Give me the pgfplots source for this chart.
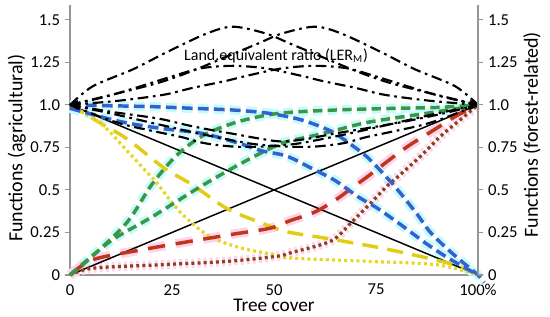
\documentclass[border=0pt]{standalone}
\usepackage{pgfplots}
\pgfplotsset{compat=1.18}
\usepackage{fontspec}
\setmainfont{Carlito}
\definecolor{cblue}{RGB}{55,95,205}
\definecolor{cgreen}{RGB}{60,150,70}
\definecolor{cyel}{RGB}{225,205,20}
\definecolor{cyel2}{RGB}{230,215,35}
\definecolor{cred}{RGB}{190,55,25}
\definecolor{cbrown}{RGB}{140,65,25}
\definecolor{halocyan}{RGB}{195,252,252}
\definecolor{halopink}{RGB}{255,210,238}
\definecolor{axgray}{RGB}{150,150,150}
\begin{document}
\begin{tikzpicture}
\pgfplotsset{
  base/.style={
    scale only axis, width=306pt, height=202.3pt,
    xmin=0, xmax=100, ymin=0, ymax=1.586,
    clip=false,
    ytick={0,0.25,0.5,0.75,1,1.25,1.5},
    yticklabels={0,0.25,0.5,0.75,1.0,1.25,1.5},
    tick align=outside,
    major tick length=4pt,
    tick style={axgray, line width=0.8pt},
    axis line style={axgray, line width=0.8pt},
    tick label style={font=\fontsize{12.5}{14}\selectfont},
    /pgf/number format/assume math mode=true,
  },
  blu/.style={cblue, line width=2.6pt, dash pattern=on 8pt off 4pt, smooth, tension=0.5},
  grn/.style={cgreen, line width=2.6pt, dash pattern=on 7pt off 4pt, smooth, tension=0.5},
  yld/.style={cyel, line width=2.6pt, dash pattern=on 12pt off 7pt, smooth, tension=0.5},
  ylt/.style={cyel2, line width=2.4pt, dash pattern=on 2.2pt off 2.4pt, smooth, tension=0.5},
  rdd/.style={cred, line width=2.6pt, dash pattern=on 13pt off 8pt, smooth, tension=0.5},
  brt/.style={cbrown, line width=2.4pt, dash pattern=on 2.2pt off 2.4pt, smooth, tension=0.5},
  hc/.style={halocyan, line width=7pt, smooth, tension=0.5},
  hp/.style={halopink, line width=7pt, smooth, tension=0.5},
  ler/.style={black, line width=1.6pt, dash pattern=on 8pt off 3.5pt on 2pt off 3.5pt, smooth, tension=0.5},
}
\begin{axis}[base,
  axis x line*=bottom, axis y line*=left,
  xtick={0,25,50,75,100}, xticklabels={0,25,50,75,100\%},
  x tick style={draw=none},
  xticklabel style={anchor=center, yshift=-7pt},
  yticklabel style={anchor=east},
]
\coordinate (SW) at (rel axis cs:0,0);
\coordinate (NE) at (rel axis cs:1,1);
% halos
\addplot[hc, dash pattern=on 8pt off 4pt] coordinates {(0,1.0) (10,0.995) (20,0.99) (30,0.98) (40,0.97) (49,0.95) (57,0.91) (64,0.845) (69,0.765) (73,0.69) (77,0.59) (80,0.51) (85,0.36) (88,0.26) (91.5,0.175) (95,0.10) (98,0.04) (100,0.0) (101.5,-0.045)};
\addplot[hc, dash pattern=on 8pt off 4pt] coordinates {(0,0.98) (10,0.915) (16,0.885) (23,0.86) (33,0.83) (42,0.77) (47,0.73) (53,0.70) (59,0.63) (65,0.555) (70.6,0.46) (75.5,0.39) (81.4,0.29) (87,0.19) (92,0.11) (97,0.04) (100,0)};
\addplot[hc, dash pattern=on 7pt off 4pt] coordinates {(0,0) (5,0.10) (14,0.31) (20,0.53) (26,0.70) (32.6,0.82) (41,0.90) (51,0.95) (65,0.97) (80,0.98) (90,0.985) (100,1)};
\addplot[hc, dash pattern=on 7pt off 4pt] coordinates {(0,0) (10,0.20) (20,0.34) (32,0.52) (43,0.67) (52,0.775) (59,0.815) (65,0.85) (73.5,0.90) (90,0.96) (100,1)};
\addplot[hp, dash pattern=on 13pt off 8pt] coordinates {(0,0) (5.6,0.09) (18,0.15) (30,0.20) (40,0.24) (49,0.275) (54,0.32) (60,0.37) (65,0.44) (69,0.51) (73,0.58) (79,0.69) (83,0.76) (87,0.82) (91,0.88) (95,0.94) (100,1)};
\addplot[hp, dash pattern=on 2.2pt off 2.4pt] coordinates {(0,0) (5.6,0.04) (22,0.06) (38.5,0.08) (50.7,0.11) (54,0.13) (64,0.20) (69,0.31) (74,0.43) (78,0.53) (80,0.57) (86,0.70) (91,0.82) (95,0.90) (100,1)};
% solid diagonals
\addplot[black, line width=1.1pt] coordinates {(0,1) (100,0)};
\addplot[black, line width=1.1pt] coordinates {(0,0) (100,1)};
% yellow
\addplot[yld] coordinates {(0,1) (7,0.90) (14,0.80) (23,0.63) (30,0.53) (38.5,0.39) (46.5,0.31) (53,0.255) (63,0.215) (76,0.16) (87.5,0.10) (95.6,0.05) (100,0)};
\addplot[ylt] coordinates {(0,1) (8,0.88) (14,0.73) (19,0.60) (21,0.55) (27,0.37) (34,0.23) (41.7,0.16) (50,0.12) (54,0.10) (73.5,0.08) (90,0.06) (100,0)};
% red / brown
\addplot[rdd] coordinates {(0,0) (5.6,0.09) (18,0.15) (30,0.20) (40,0.24) (49,0.275) (54,0.32) (60,0.37) (65,0.44) (69,0.51) (73,0.58) (79,0.69) (83,0.76) (87,0.82) (91,0.88) (95,0.94) (100,1)};
\addplot[brt] coordinates {(0,0) (5.6,0.04) (22,0.06) (38.5,0.08) (50.7,0.11) (54,0.13) (64,0.20) (69,0.31) (74,0.43) (78,0.53) (80,0.57) (86,0.70) (91,0.82) (95,0.90) (100,1)};
% green
\addplot[grn] coordinates {(0,0) (5,0.10) (14,0.31) (20,0.53) (26,0.70) (32.6,0.82) (41,0.90) (51,0.95) (65,0.97) (80,0.98) (90,0.985) (100,1)};
\addplot[grn] coordinates {(0,0) (10,0.20) (20,0.34) (32,0.52) (43,0.67) (52,0.775) (59,0.815) (65,0.85) (73.5,0.90) (90,0.96) (100,1)};
% blue
\addplot[blu] coordinates {(0,1.0) (10,0.995) (20,0.99) (30,0.98) (40,0.97) (49,0.95) (57,0.91) (64,0.845) (69,0.765) (73,0.69) (77,0.59) (80,0.51) (85,0.36) (88,0.26) (91.5,0.175) (95,0.10) (98,0.04) (100,0.0) (101.5,-0.045)};
\addplot[blu] coordinates {(0,0.98) (10,0.915) (16,0.885) (23,0.86) (33,0.83) (42,0.77) (47,0.73) (53,0.70) (59,0.63) (65,0.555) (70.6,0.46) (75.5,0.39) (81.4,0.29) (87,0.19) (92,0.11) (97,0.04) (100,0)};
% LER curves
\addplot[ler] coordinates {(0,1) (5.6,1.11) (15.5,1.21) (23.7,1.31) (33.5,1.42) (40,1.46) (48,1.42) (54,1.36) (60,1.30) (70,1.20) (77,1.14) (83,1.10) (91.5,1.05) (100,1)};
\addplot[ler] coordinates {(0,1) (8.5,1.05) (17,1.10) (23,1.14) (30,1.20) (40,1.30) (46,1.36) (52,1.42) (60,1.46) (66.5,1.42) (76.3,1.31) (84.5,1.21) (94.4,1.11) (100,1)};
\addplot[ler] coordinates {(0,1) (9,1.05) (16,1.10) (24,1.16) (32,1.215) (40,1.23) (48,1.215) (56,1.175) (62,1.14) (70,1.10) (77,1.06) (88,1.025) (100,1)};
\addplot[ler] coordinates {(0,1) (12,1.025) (23,1.06) (30,1.10) (38,1.14) (44,1.175) (52,1.215) (60,1.23) (68,1.215) (76,1.16) (84,1.10) (91,1.05) (100,1)};
\addplot[ler] coordinates {(0,1) (10,0.96) (21.6,0.92) (28,0.885) (33,0.86) (40,0.83) (47,0.80) (52,0.785) (58,0.80) (64.5,0.83) (72,0.86) (81.6,0.90) (91.5,0.95) (100,1)};
\addplot[ler] coordinates {(0,1) (8.6,0.92) (14,0.88) (21.6,0.84) (27.5,0.81) (33,0.775) (40,0.755) (47,0.755) (55,0.77) (62,0.80) (70,0.84) (80,0.895) (90,0.95) (100,1)};
\addplot[ler] coordinates {(0,1) (10,0.95) (20,0.895) (30,0.84) (38,0.80) (45,0.77) (53,0.755) (60,0.755) (67,0.775) (72.5,0.81) (78.4,0.84) (86,0.88) (91.4,0.92) (100,1)};
% arrow heads
\addplot[only marks, mark=triangle*, mark size=4pt, mark options={rotate=90, black}] coordinates {(1.2,1)};
\addplot[only marks, mark=triangle*, mark size=4pt, mark options={rotate=-90, black}] coordinates {(98.8,1)};
% texts
\node[font=\fontsize{12}{14}\selectfont, inner sep=0pt] at (axis cs:50.5,1.29) {Land.equivalent ratio (LER\textsubscript{M})};
\node[font=\fontsize{15}{17}\selectfont, rotate=90] at ([xshift=-40pt]rel axis cs:0,0.47) {Functions (agricultural)};
\node[font=\fontsize{15}{17}\selectfont, rotate=90] at ([xshift=40.5pt]rel axis cs:1,0.52) {Functions (forest-related)};
\node[font=\fontsize{14.5}{16}\selectfont, inner sep=0pt] at ([yshift=-23pt]rel axis cs:0.5,0) {Tree cover};
\end{axis}
\begin{axis}[base,
  axis y line*=right, axis x line=none,
  yticklabel style={anchor=west},
]
\end{axis}
\pgfresetboundingbox
\path ([shift={(-52.5pt,-31.5pt)}]SW) rectangle ([shift={(54pt,3.95pt)}]NE);
\end{tikzpicture}
\end{document}
